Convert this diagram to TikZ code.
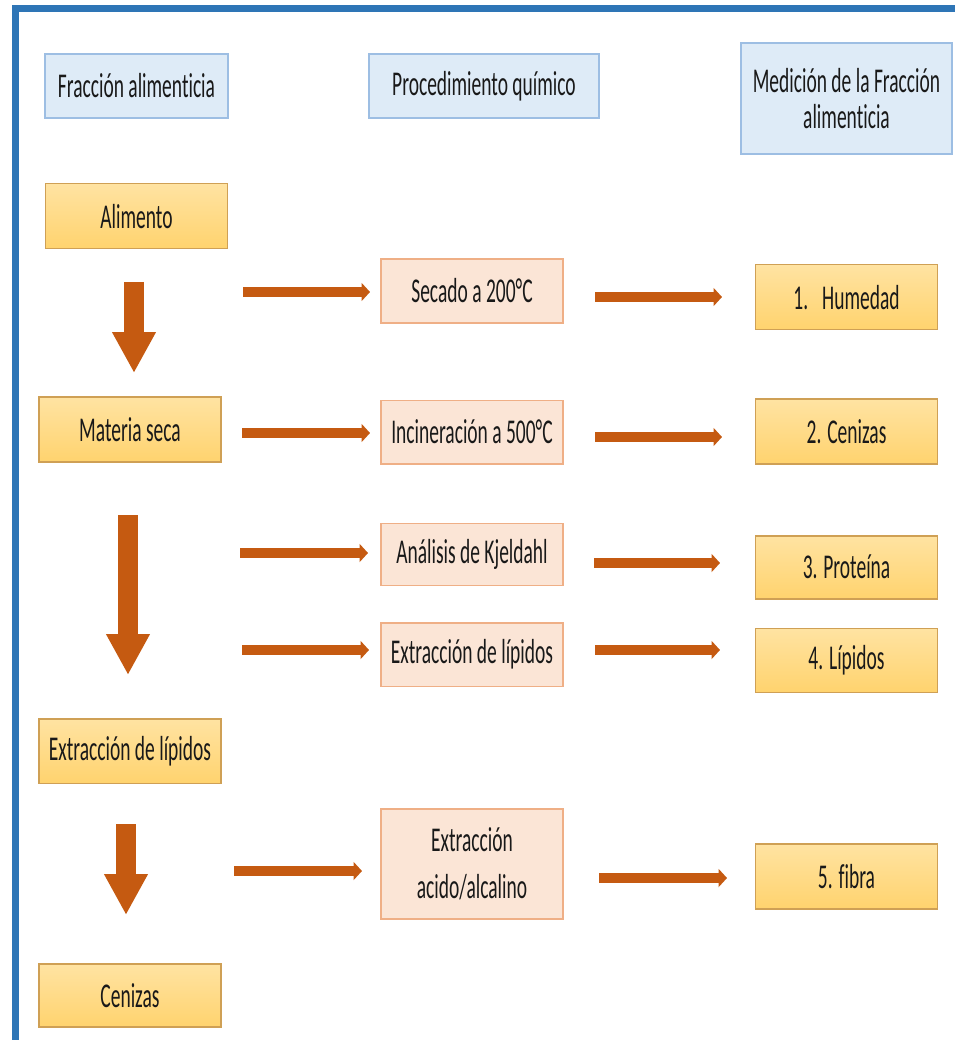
\documentclass[tikz,border=0pt]{standalone}
\usepackage{fontspec}
\setmainfont{Carlito}[FakeStretch=0.56, Ligatures=NoCommon]
\usepackage{tikz}
\usetikzlibrary{positioning,arrows.meta}

\definecolor{azulmarco}{HTML}{2E75B6}
\definecolor{azulcaja}{HTML}{DEEBF7}
\definecolor{azulborde}{HTML}{9DBEE3}
\definecolor{naranjaclaro}{HTML}{FFE3A2}
\definecolor{naranjacaja}{HTML}{FFD36E}
\definecolor{naranjaborde}{HTML}{CFA055}
\definecolor{rosacaja}{HTML}{FBE5D6}
\definecolor{rosaborde}{HTML}{EFAF86}
\definecolor{flechacol}{HTML}{C55A11}

\begin{document}
\begin{tikzpicture}[x=0.02cm,y=0.02cm,
        every node/.style={font=\fontsize{19.8}{23}\selectfont, text=black!90, inner sep=0pt},
        head node/.style={rectangle, draw=azulborde, line width=1pt, fill=azulcaja,
        minimum height=1.28cm, align=center},
        food node/.style={rectangle, draw=naranjaborde, line width=0.9pt,
        top color=naranjaclaro, bottom color=naranjacaja,
        minimum width=3.64cm, minimum height=1.3cm, align=center},
        proc node/.style={rectangle, draw=rosaborde, line width=0.9pt, fill=rosacaja,
        minimum width=3.64cm, minimum height=1.27cm, align=center},
        flecha/.style={draw=flechacol, line width=0.19cm,
        -{Triangle[length=0.17cm, width=0.36cm]}},
        bajada/.style={draw=flechacol, line width=0.4cm,
        -{Triangle[length=0.82cm, width=0.82cm]}}
        ]

        \useasboundingbox (0,0) rectangle (955,-1040);
        \draw[azulmarco, line width=0.14cm] (15.5,-1040) -- (15.5,-8.5) -- (955,-8.5);

        % columna izquierda
        \node [head node, minimum width=3.66cm] (hdfrac) at (136.5,-86) {Fracción alimenticia} ;
        \node [food node] (alim) [below = 1.28cm of hdfrac] {Alimento} ;
        \node [food node] (mseca) [below = 2.94cm of alim, xshift=-0.13cm] {Materia seca} ;
        \node [food node] (extl) [below = 5.1cm of mseca] {Extracción de lípidos} ;
        \node [food node, minimum height=1.26cm] (ceniz) [below = 3.58cm of extl] {Cenizas} ;

        % columna central
        \node [head node, minimum width=4.6cm] (hdproc) at (484,-86) {Procedimiento químico} ;
        \node [proc node] (secado) at (472,-291) {Secado a 200°C} ;
        \node [proc node] (incin) [below = 1.52cm of secado] {Incineración a 500°C} ;
        \node [proc node, minimum height=1.24cm] (kjel) [below = 1.16cm of incin] {Análisis de Kjeldahl} ;
        \node [proc node] (extm) [below = 0.72cm of kjel] {Extracción de lípidos} ;
        \node [proc node, minimum height=2.2cm] (acido) [below = 2.42cm of extm]
        {Extracción\\[4pt] acido/alcalino} ;

        % columna derecha
        \node [head node, minimum width=4.22cm, minimum height=2.22cm] (hdmed) at (846.5,-98.5)
        {Medición de la Fracción\\[-3pt] alimenticia} ;
        \node [food node] (hum) [below = 2.18cm of hdmed] {1.\hspace{8pt}Humedad} ;
        \node [food node] (cen) [below = 1.36cm of hum] {2. Cenizas} ;
        \node [food node, minimum height=1.26cm] (prot) [below = 1.4cm of cen] {3. Proteína} ;
        \node [food node, minimum height=1.28cm] (lip) [below = 0.56cm of prot] {4. Lípidos} ;
        \node [food node] (fibra) [below = 3.0cm of lip] {5. fibra} ;

        % extremos de las flechas
        \coordinate (a1) at (243,-292);  \coordinate (b1) at (370,-292);
        \coordinate (c1) at (595,-297);  \coordinate (d1) at (722,-297);
        \coordinate (a2) at (242,-433);  \coordinate (b2) at (370,-433);
        \coordinate (c2) at (595,-437);  \coordinate (d2) at (722,-437);
        \coordinate (a3) at (240,-553);  \coordinate (b3) at (368,-553);
        \coordinate (c3) at (594,-563);  \coordinate (d3) at (720,-563);
        \coordinate (a4) at (242,-650);  \coordinate (b4) at (369,-650);
        \coordinate (c4) at (595,-650);  \coordinate (d4) at (720,-650);
        \coordinate (a5) at (234,-871);  \coordinate (b5) at (362,-871);
        \coordinate (c5) at (599,-878);  \coordinate (d5) at (727,-878);
        \coordinate (v1) at (134,-282);  \coordinate (w1) at (134,-373);
        \coordinate (v2) at (128,-515);  \coordinate (w2) at (128,-675);
        \coordinate (v3) at (126,-824);  \coordinate (w3) at (126,-915);

        \path
        (a1) edge [flecha] (b1)
        (c1) edge [flecha] (d1)
        (a2) edge [flecha] (b2)
        (c2) edge [flecha] (d2)
        (a3) edge [flecha] (b3)
        (c3) edge [flecha] (d3)
        (a4) edge [flecha] (b4)
        (c4) edge [flecha] (d4)
        (a5) edge [flecha] (b5)
        (c5) edge [flecha] (d5)
        (v1) edge [bajada] (w1)
        (v2) edge [bajada] (w2)
        (v3) edge [bajada] (w3)
        ;
     \end{tikzpicture}
\end{document}
